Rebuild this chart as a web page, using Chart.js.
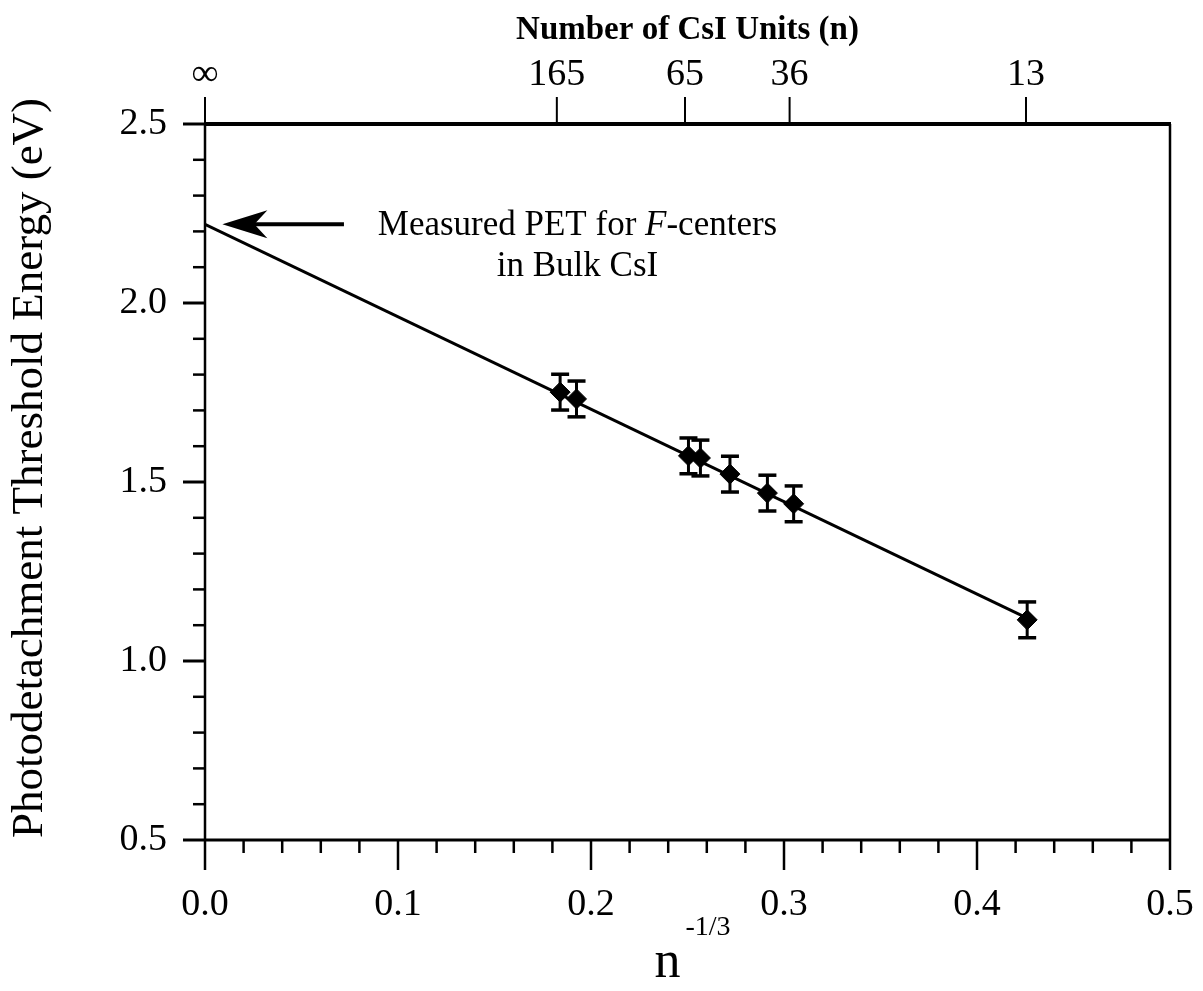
<!DOCTYPE html>
<html>
<head>
<meta charset="utf-8">
<script src="https://cdn.jsdelivr.net/npm/chart.js@4.4.1/dist/chart.umd.min.js"></script>
<style>
  html, body { margin: 0; padding: 0; background: #fff; }
</style>
</head>
<body>
<canvas id="petChart" width="1203" height="991"></canvas>
<script>
const SERIF = '"Liberation Serif", "Times New Roman", serif';

// measured photodetachment thresholds vs n^-1/3
const nInv   = [0.184, 0.1925, 0.2505, 0.2567, 0.272, 0.2914, 0.305, 0.426];
const pet    = [1.751, 1.732, 1.573, 1.567, 1.522, 1.469, 1.439, 1.115];
const petErr = [0.05, 0.05, 0.05, 0.05, 0.05, 0.05, 0.05, 0.05];

// linear fit, extrapolated to bulk (n -> infinity)
const fitX = [0, 0.426];
const fitY = [2.22, 1.12];

// top axis: number of CsI units
const topTickLabels = ['\u221E', '165', '65', '36', '13'];
const topTickPos    = [0, 0.1823, 0.2487, 0.3029, 0.4254];

// annotation
const bulkPET = 2.22;
const noteLines = ['Measured PET for F-centers', 'in Bulk CsI'];
const yTitle = 'Photodetachment Threshold Energy (eV)';

function line(ctx, x1, y1, x2, y2, w){
  ctx.lineWidth = w;
  ctx.beginPath();
  ctx.moveTo(x1, y1);
  ctx.lineTo(x2, y2);
  ctx.stroke();
}

const errorBars = {
  id: 'errorBars',
  afterDatasetsDraw(chart){
    const ctx = chart.ctx;
    const xs = chart.scales.x, ys = chart.scales.y;
    ctx.save();
    ctx.strokeStyle = '#000';
    nInv.forEach((v, i) => {
      const px = xs.getPixelForValue(v);
      const hi = ys.getPixelForValue(pet[i] + petErr[i]);
      const lo = ys.getPixelForValue(pet[i] - petErr[i]);
      line(ctx, px, hi, px, lo, 3);
      line(ctx, px - 9, hi, px + 9, hi, 3.5);
      line(ctx, px - 9, lo, px + 9, lo, 3.5);
    });
    ctx.restore();
  }
};

const frameAndTicks = {
  id: 'frameAndTicks',
  afterDraw(chart){
    const ctx = chart.ctx;
    const {left, right, top, bottom} = chart.chartArea;
    const xs = chart.scales.x, ys = chart.scales.y, xt = chart.scales.x2;
    ctx.save();
    ctx.strokeStyle = '#000';
    ctx.fillStyle = '#000';
    ctx.lineCap = 'butt';

    // frame
    line(ctx, left, top, right + 1, top, 4);
    line(ctx, left, bottom, right + 1, bottom, 3);
    line(ctx, left, top, left, bottom, 2.5);
    line(ctx, right, top, right, bottom, 2.5);

    // left ticks: minor 0.1, major 0.5
    for(let i = 5; i <= 25; i++){
      const py = ys.getPixelForValue(i / 10);
      const len = i % 5 === 0 ? 22 : 12;
      line(ctx, left - len, py, left, py, i % 5 === 0 ? 3 : 2.5);
    }
    // bottom ticks: minor 0.02, major 0.1
    for(let i = 0; i <= 25; i++){
      const px = xs.getPixelForValue(i * 0.02);
      const len = i % 5 === 0 ? 30 : 13;
      line(ctx, px, bottom, px, bottom + len, 2.5);
    }
    // top ticks
    topTickPos.forEach(v => {
      const px = xt.getPixelForValue(v);
      line(ctx, px, top, px, top - 27, 2);
    });

    // arrow to extrapolated bulk value
    const ay = ys.getPixelForValue(bulkPET);
    const tip = xs.getPixelForValue(0.009);
    const tail = xs.getPixelForValue(0.072);
    line(ctx, tip + 30, ay, tail, ay, 4);
    ctx.beginPath();
    ctx.moveTo(tip, ay);
    ctx.lineTo(tip + 45, ay - 14);
    ctx.lineTo(tip + 32, ay);
    ctx.lineTo(tip + 45, ay + 14);
    ctx.closePath();
    ctx.fill();

    // annotation text
    const fs = 35;
    ctx.textBaseline = 'middle';
    ctx.textAlign = 'left';
    const cx = xs.getPixelForValue(0.193);
    const parts = [['Measured PET for ', ''], ['F', 'italic '], ['-centers', '']];
    let total = 0;
    parts.forEach(p => { ctx.font = p[1] + fs + 'px ' + SERIF; total += ctx.measureText(p[0]).width; });
    let x = cx - total / 2;
    parts.forEach(p => {
      ctx.font = p[1] + fs + 'px ' + SERIF;
      ctx.fillText(p[0], x, ay + 2);
      x += ctx.measureText(p[0]).width;
    });
    ctx.font = fs + 'px ' + SERIF;
    ctx.textAlign = 'center';
    ctx.fillText(noteLines[1], cx, ys.getPixelForValue(2.1));

    // y axis title
    ctx.save();
    ctx.translate(30, ys.getPixelForValue(1.5) - 14);
    ctx.rotate(-Math.PI / 2);
    ctx.font = '45px ' + SERIF;
    ctx.textAlign = 'center';
    ctx.textBaseline = 'middle';
    ctx.fillText(yTitle, 0, 0);
    ctx.restore();

    // bottom axis title: n^-1/3
    const mid = (left + right) / 2;
    ctx.textAlign = 'center';
    ctx.textBaseline = 'alphabetic';
    ctx.font = '52px ' + SERIF;
    ctx.fillText('n', mid - 20, 977);
    ctx.font = '28px ' + SERIF;
    ctx.textAlign = 'left';
    ctx.fillText('-1/3', mid - 2, 935);

    ctx.restore();
  }
};

const ctx = document.getElementById('petChart').getContext('2d');
new Chart(ctx, {
  type: 'scatter',
  data: {
    datasets: [
      {
        type: 'line',
        data: fitX.map((x, i) => ({x, y: fitY[i]})),
        borderColor: '#000',
        borderWidth: 3,
        pointRadius: 0,
        fill: false
      },
      {
        data: nInv.map((x, i) => ({x, y: pet[i]})),
        pointStyle: 'rectRot',
        pointRadius: 10,
        backgroundColor: '#000',
        borderColor: '#000',
        borderWidth: 1
      }
    ]
  },
  options: {
    responsive: false,
    animation: false,
    layout: { padding: { left: 0, right: 33, top: 0, bottom: 0 } },
    plugins: { legend: { display: false }, tooltip: { enabled: false } },
    scales: {
      x: {
        type: 'linear', position: 'bottom', min: 0, max: 0.5,
        grid: { display: false, drawTicks: false },
        border: { display: false },
        ticks: {
          stepSize: 0.1, padding: 42, color: '#000',
          font: { family: SERIF, size: 38 },
          callback: v => v.toFixed(1)
        },
        afterFit: s => { s.height = 151; s.paddingLeft = 0; s.paddingRight = 0; }
      },
      x2: {
        type: 'linear', position: 'top', min: 0, max: 0.5,
        grid: { display: false, drawTicks: false },
        border: { display: false },
        afterBuildTicks: s => { s.ticks = topTickPos.map(v => ({value: v})); },
        ticks: {
          padding: 26, color: '#000',
          font: { family: SERIF, size: 38 },
          callback: (v, i) => topTickLabels[i]
        },
        title: {
          display: true, text: 'Number of CsI Units (n)', color: '#000',
          font: { family: SERIF, size: 33, weight: 'bold' },
          padding: { top: 11, bottom: 0 }
        },
        afterFit: s => { s.height = 124; s.paddingLeft = 0; s.paddingRight = 0; }
      },
      y: {
        min: 0.5, max: 2.5,
        grid: { display: false, drawTicks: false },
        border: { display: false },
        ticks: {
          stepSize: 0.5, padding: 38, color: '#000',
          font: { family: SERIF, size: 38 },
          callback: v => v.toFixed(1)
        },
        afterFit: s => { s.width = 205; s.paddingTop = 0; s.paddingBottom = 0; }
      }
    }
  },
  plugins: [errorBars, frameAndTicks]
});
</script>
</body>
</html>
